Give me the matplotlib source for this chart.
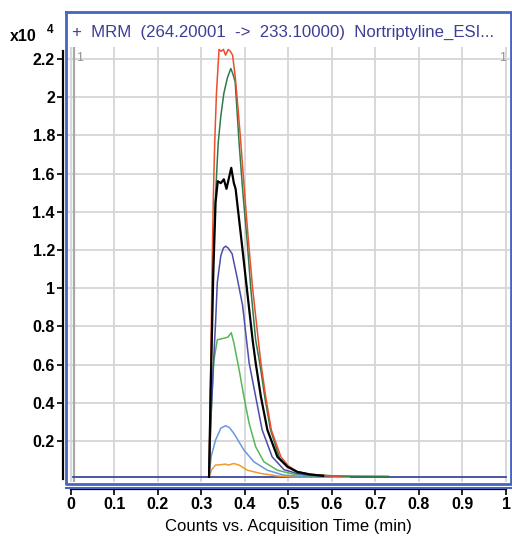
import matplotlib
matplotlib.use("Agg")
import matplotlib.pyplot as plt
from matplotlib.lines import Line2D

plt.rcParams['font.family'] = ['Liberation Sans', 'DejaVu Sans']

# chromatogram traces, counts x10^4 vs acquisition time (min)
red_t = [0.318, 0.321, 0.325, 0.328, 0.331, 0.335, 0.341, 0.346, 0.351, 0.356, 0.362, 0.367, 0.372,
         0.378, 0.385, 0.391, 0.397, 0.400, 0.408, 0.418, 0.431, 0.437, 0.448, 0.461, 0.483, 0.50, 0.52,
         0.55, 0.60, 0.62]
red_v = [0.012, 0.45, 1.10, 1.49, 1.76, 2.02, 2.25, 2.24, 2.25, 2.22, 2.25, 2.24, 2.22,
         2.11, 1.93, 1.76, 1.58, 1.49, 1.26, 1.0, 0.73, 0.61, 0.433, 0.258, 0.117, 0.07, 0.04,
         0.025, 0.017, 0.014]

dkgreen_t = [0.318, 0.322, 0.328, 0.333, 0.339, 0.345, 0.352, 0.36, 0.368, 0.373, 0.378, 0.387,
             0.396, 0.405, 0.414, 0.425, 0.435, 0.446, 0.459, 0.48, 0.50, 0.52, 0.55, 0.60, 0.65, 0.73]
dkgreen_v = [0.012, 0.5, 1.2, 1.49, 1.76, 1.9, 2.02, 2.1, 2.15, 2.12, 2.08, 1.76,
             1.49, 1.26, 0.995, 0.73, 0.6, 0.43, 0.26, 0.11, 0.065, 0.04, 0.025, 0.018, 0.016, 0.015]

black_t = [0.318, 0.322, 0.328, 0.333, 0.338, 0.345, 0.352, 0.358, 0.364, 0.369, 0.375, 0.379,
           0.385, 0.392, 0.405, 0.418, 0.425, 0.437, 0.452, 0.475, 0.498, 0.521, 0.55, 0.58]
black_v = [0.012, 0.5, 1.1, 1.45, 1.56, 1.55, 1.57, 1.52, 1.58, 1.63, 1.55, 1.52,
           1.40, 1.26, 0.995, 0.73, 0.61, 0.433, 0.258, 0.117, 0.065, 0.038, 0.025, 0.018]

slate_t = [0.318, 0.322, 0.328, 0.333, 0.337, 0.345, 0.351, 0.356, 0.362, 0.371, 0.383, 0.395,
           0.402, 0.41, 0.425, 0.44, 0.463, 0.49, 0.52, 0.55, 0.6]
slate_v = [0.012, 0.3, 0.6, 0.82, 1.03, 1.17, 1.21, 1.22, 1.21, 1.18, 1.05, 0.91,
           0.77, 0.61, 0.433, 0.258, 0.117, 0.05, 0.03, 0.02, 0.015]

ltgreen_t = [0.318, 0.323, 0.329, 0.337, 0.346, 0.356, 0.362, 0.369, 0.375, 0.387, 0.398, 0.41,
             0.425, 0.444, 0.475, 0.513, 0.55, 0.6]
ltgreen_v = [0.012, 0.35, 0.62, 0.73, 0.735, 0.74, 0.745, 0.767, 0.714, 0.574, 0.433, 0.293,
             0.17, 0.091, 0.047, 0.026, 0.018, 0.014]

ltblue_t = [0.318, 0.323, 0.333, 0.345, 0.356, 0.365, 0.375, 0.398, 0.421, 0.452, 0.49, 0.53, 0.58]
ltblue_v = [0.012, 0.12, 0.205, 0.267, 0.28, 0.27, 0.24, 0.153, 0.091, 0.047, 0.021, 0.015, 0.012]

orange_t = [0.318, 0.324, 0.333, 0.345, 0.356, 0.362, 0.375, 0.387, 0.406, 0.437, 0.475, 0.51, 0.64]
orange_v = [0.012, 0.05, 0.074, 0.076, 0.079, 0.074, 0.082, 0.074, 0.047, 0.03, 0.017, 0.012, 0.011]

baseline_t = [0.005, 1.0]
baseline_v = [0.012, 0.012]

xticks = [0, 0.1, 0.2, 0.3, 0.4, 0.5, 0.6, 0.7, 0.8, 0.9, 1]
xticklabels = ['0', '0.1', '0.2', '0.3', '0.4', '0.5', '0.6', '0.7', '0.8', '0.9', '1']
yticks = [0.2, 0.4, 0.6, 0.8, 1.0, 1.2, 1.4, 1.6, 1.8, 2.0, 2.2]
yticklabels = ['0.2', '0.4', '0.6', '0.8', '1', '1.2', '1.4', '1.6', '1.8', '2', '2.2']

title = "+  MRM  (264.20001  ->  233.10000)  Nortriptyline_ESI..."

W, H = 512, 539
fig = plt.figure(figsize=(W / 100, H / 100), dpi=100)
ax = fig.add_axes([66.2 / W, 1 - 481.5 / H, 444.2 / W, 434 / H])
ax.set_xlim(-0.01, 1.01)
ax.set_ylim(-0.012, 2.26)

ax.set_xticks(xticks)
ax.set_xticklabels(xticklabels)
ax.set_yticks(yticks)
ax.set_yticklabels(yticklabels)
ax.grid(True, color='#d6d6d6', lw=1.3)
ax.set_axisbelow(True)
ax.axvline(0.007, color='#a8a8a8', lw=1.6, zorder=1)

traces = [
    (baseline_t, baseline_v, '#3a48a0', 1.3),
    (orange_t, orange_v, '#f29a2e', 1.1),
    (ltblue_t, ltblue_v, '#6a98dc', 1.1),
    (ltgreen_t, ltgreen_v, '#55b855', 1.1),
    (slate_t, slate_v, '#4c4eaa', 1.1),
    (dkgreen_t, dkgreen_v, '#2e7a48', 1.1),
    (red_t, red_v, '#e8502e', 1.1),
    (black_t, black_v, '#000000', 1.6),
]
for t, v, c, lw in traces:
    ax.plot(t, v, color=c, lw=lw, zorder=3)

for side in ['top', 'right']:
    ax.spines[side].set_visible(False)
ax.spines['left'].set_position(('outward', 2.3))
ax.spines['left'].set_bounds(0, 2.24)
ax.spines['bottom'].set_position(('outward', 5.4))
ax.spines['bottom'].set_bounds(0, 1)
for side in ['left', 'bottom']:
    ax.spines[side].set_linewidth(1.6)
ax.tick_params(direction='out', length=4.3, width=1.2, pad=1.5, labelsize=11.5)
for lab in ax.get_xticklabels() + ax.get_yticklabels():
    lab.set_fontweight('bold')

ax.set_xlabel('Counts vs. Acquisition Time (min)', fontsize=12, labelpad=5)

# small trace markers at the top corners
ax.text(0.022, 0.975, '1', transform=ax.transAxes, color='#909090', fontsize=9, va='center')
ax.text(0.975, 0.975, '1', transform=ax.transAxes, color='#909090', fontsize=9, va='center')

# blue frame around title and plot
blue = '#4466c0'
x0, x1 = 66 / W, 511 / W
ytop, ybot = 1 - 12 / H, 1 - 484 / H
fig.add_artist(Line2D([x0, x1, x1, x0, x0], [ytop, ytop, ybot, ybot, ytop], color=blue, lw=2))
fig.add_artist(Line2D([x0, x1], [1 - 488 / H, 1 - 488 / H], color=blue, lw=1.5))

fig.text(72 / W, 1 - 32 / H, title, color='#3d3d96', fontsize=12.1, va='center', ha='left')
fig.text(10 / W, 1 - 36 / H, 'x10', fontsize=11.5, fontweight='bold', va='center', ha='left')
fig.text(47 / W, 1 - 30 / H, '4', fontsize=8.5, fontweight='bold', va='center', ha='left')

fig.savefig('out.png', dpi=100)
